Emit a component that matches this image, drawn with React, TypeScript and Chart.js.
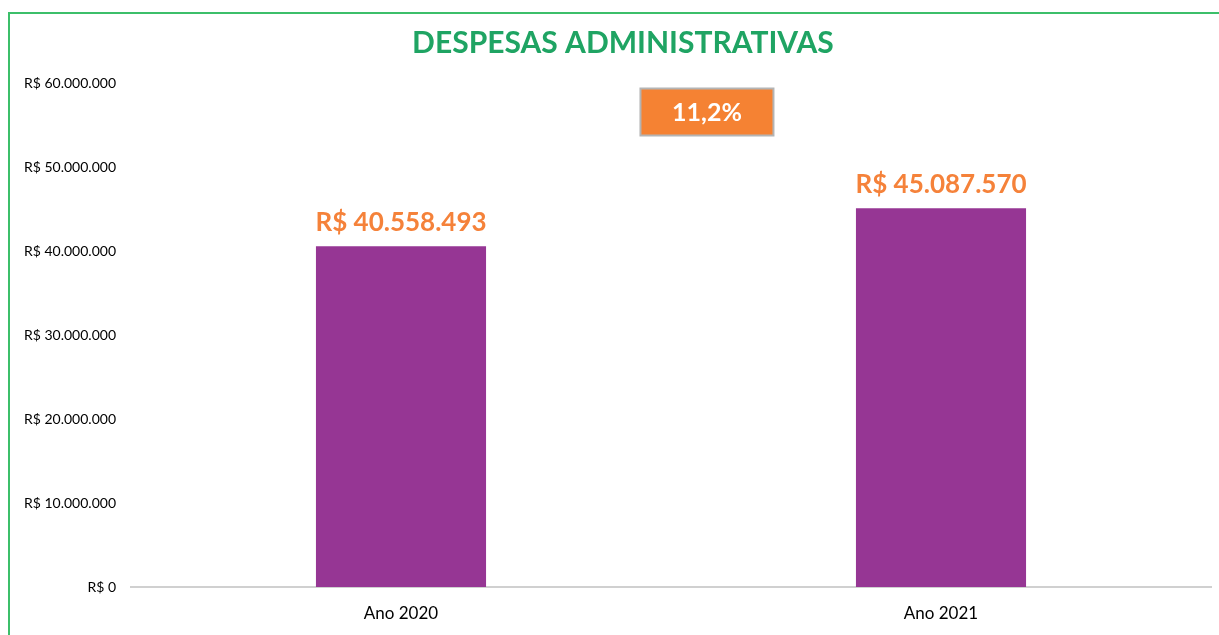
import React, { useEffect, useRef } from "react";
import { Chart, registerables } from "chart.js";

Chart.register(...registerables);

const categories = ["Ano 2020", "Ano 2021"];
const values = [40558493, 45087570];
const yTicks = [0, 10000000, 20000000, 30000000, 40000000, 50000000, 60000000];
const title = "DESPESAS ADMINISTRATIVAS";
const growthLabel = "11,2%";

const FONT = "Lato, 'Open Sans', sans-serif";
const fmt = (v: number) => "R$ " + Math.round(v).toString().replace(/\B(?=(\d{3})+(?!\d))/g, ".");

const labelsPlugin = {
  id: "barLabels",
  afterDatasetsDraw(chart: any) {
    const ctx = chart.ctx;
    const meta = chart.getDatasetMeta(0);
    ctx.save();
    // title
    ctx.font = `bold 30px ${FONT}`;
    ctx.fillStyle = "#1FA463";
    ctx.textAlign = "center";
    ctx.textBaseline = "middle";
    ctx.fillText(title, chart.width * 0.511, 43);
    // bar value labels
    ctx.font = `bold 26px ${FONT}`;
    ctx.fillStyle = "#F5823A";
    meta.data.forEach((bar: any, i: number) => {
      ctx.fillText(fmt(values[i]), bar.x, bar.y - 24);
    });
    // growth box
    const a = chart.chartArea;
    const cx = a.left + (a.right - a.left) * 0.5333;
    const cy = a.top + 29;
    const w = 133, h = 47;
    ctx.fillStyle = "#F58233";
    ctx.fillRect(cx - w / 2, cy - h / 2, w, h);
    ctx.strokeStyle = "#B4B4B4";
    ctx.lineWidth = 2;
    ctx.strokeRect(cx - w / 2, cy - h / 2, w, h);
    ctx.fillStyle = "#FFFFFF";
    ctx.font = `bold 25px ${FONT}`;
    ctx.fillText(growthLabel, cx, cy + 1);
    ctx.restore();
  },
};

export default function App() {
  const ref = useRef<HTMLCanvasElement>(null);
  useEffect(() => {
    const chart = new Chart(ref.current!, {
      type: "bar",
      data: {
        labels: categories,
        datasets: [
          {
            data: values,
            backgroundColor: "#963694",
            barPercentage: 0.315,
            categoryPercentage: 1,
          },
        ],
      },
      options: {
        animation: false,
        responsive: false,
        devicePixelRatio: 1,
        layout: { padding: { left: 8, right: 8, top: 83, bottom: 0 } },
        plugins: {
          legend: { display: false },
          tooltip: { enabled: false },
          title: { display: false },
        },
        scales: {
          x: {
            grid: { display: false },
            border: { display: true, color: "#D0D0D0", width: 2 },
            ticks: { color: "#000", font: { family: FONT, size: 17 }, padding: 8 },
            afterFit: (s: any) => { s.height = 48; },
          },
          y: {
            min: 0,
            max: 60000000,
            afterBuildTicks: (s: any) => { s.ticks = yTicks.map((v) => ({ value: v })); },
            grid: { display: false, drawTicks: false },
            border: { display: false },
            ticks: {
              color: "#000",
              font: { family: FONT, size: 14 },
              padding: 15,
              callback: (v: any) => fmt(Number(v)),
            },
            afterFit: (s: any) => { s.width = 123; },
          },
        },
      },
      plugins: [labelsPlugin],
    });
    return () => chart.destroy();
  }, []);
  return (
    <div style={{ position: "fixed", left: 0, top: 0, width: 1219, height: 635, background: "#fff", overflow: "hidden" }}>
      <div style={{ position: "absolute", left: 8, top: 12, width: 1240, height: 660, border: "2px solid #3CBF6A", boxSizing: "border-box" }} />
      <canvas ref={ref} width={1219} height={635} style={{ position: "absolute", left: 0, top: 0 }} />
    </div>
  );
}
